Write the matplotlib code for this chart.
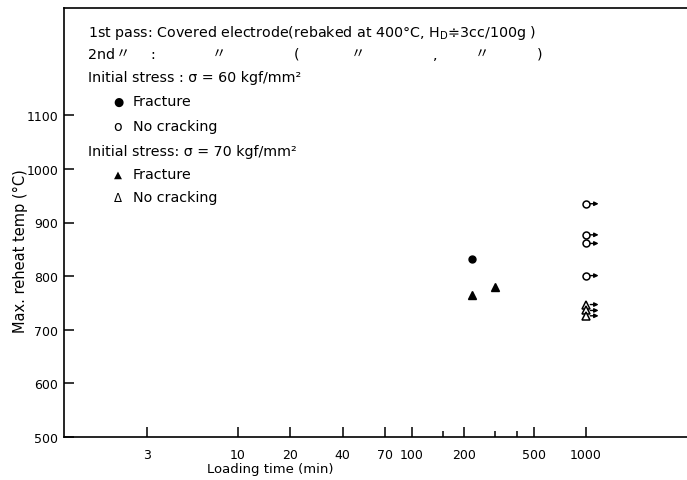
import matplotlib
matplotlib.use("Agg")
import matplotlib.pyplot as plt

plt.rcParams['font.family'] = ['DejaVu Sans', 'Noto Sans CJK JP']
plt.rcParams['mathtext.default'] = 'regular'

# ---- data ----
frac60_time = [220]
frac60_temp = [832]
frac70_time = [220, 300]
frac70_temp = [765, 780]
nocrack60_time = [1000, 1000, 1000, 1000]
nocrack60_temp = [935, 877, 861, 801]
nocrack70_time = [1000, 1000, 1000]
nocrack70_temp = [747, 736, 726]

xticks_major = [3, 10, 20, 40, 70, 100, 200, 500, 1000]
xticks_minor = [150, 300, 400]
yticks = [500, 600, 700, 800, 900, 1000, 1100]

W, H = 687, 481
fig = plt.figure(figsize=(W / 100, H / 100), dpi=100)
ax = fig.add_axes([64 / W, 1 - 438 / H, 1 - 64 / W, (438 - 9) / H])

ax.set_xscale('log')
ax.set_xlim(1, 3800)
ax.set_ylim(500, 1300)

ax.plot(frac60_time, frac60_temp, 'o', color='black', ms=5)
ax.plot(frac70_time, frac70_temp, '^', color='black', ms=6)
ax.plot(nocrack60_time, nocrack60_temp, 'o', mfc='white', mec='black', mew=1.1, ms=5, zorder=3)
ax.plot(nocrack70_time, nocrack70_temp, '^', mfc='white', mec='black', mew=1.1, ms=6, zorder=3)

for t, v in list(zip(nocrack60_time, nocrack60_temp)) + list(zip(nocrack70_time, nocrack70_temp)):
    ax.annotate('', xy=(t * 1.18, v), xytext=(t, v),
                arrowprops=dict(arrowstyle='-|>', color='black', lw=1.0,
                                shrinkA=3, shrinkB=0, mutation_scale=6))

ax.set_xticks(xticks_major)
ax.set_xticklabels([str(t) for t in xticks_major])
ax.set_xticks(xticks_minor, minor=True)
ax.set_xticklabels([], minor=True)
ax.set_yticks(yticks)

ax.tick_params(axis='x', which='major', direction='in', length=7, width=1.1, pad=8, labelsize=9)
ax.tick_params(axis='x', which='minor', direction='in', length=4, width=1.1)
ax.tick_params(axis='y', which='major', direction='in', length=7, width=1.1, pad=4, labelsize=9)
ax.tick_params(axis='y', which='minor', left=False)

for s in ['left', 'bottom', 'top']:
    ax.spines[s].set_linewidth(1.2)
ax.spines['right'].set_visible(False)

ax.set_xlabel('Loading time (min)', fontsize=9.5)
ax.xaxis.set_label_coords((270 - 64) / 623, (438 - 463) / 429)
ax.set_ylabel('Max. reheat temp (°C)', fontsize=10.5)
ax.yaxis.set_label_coords((28 - 64) / 623, (438 - 251) / 429)


def ftext(x, y, s, **kw):
    fig.text(x / W, 1 - y / H, s, va='center', ha=kw.pop('ha', 'left'),
             fontsize=kw.pop('fontsize', 10.3), **kw)


ftext(88, 33, '1st pass: Covered electrode(rebaked at 400°C, H$_D$≑3cc/100g )')
ftext(88, 55, '2nd')
for xp, s in [(123, '〃'), (153, ':'), (219, '〃'), (297, '('), (358, '〃'), (435, ','), (482, '〃'), (540, ')')]:
    ftext(xp, 55, s, ha='center')
ftext(88, 78, 'Initial stress : σ = 60 kgf/mm²')
ftext(118, 102, '●', ha='center', fontsize=8.5)
ftext(133, 102, 'Fracture')
ftext(118, 127, 'o', ha='center')
ftext(133, 127, 'No cracking')
ftext(88, 152, 'Initial stress: σ = 70 kgf/mm²')
ftext(118, 175, '▲', ha='center', fontsize=7.5)
ftext(133, 175, 'Fracture')
ftext(118, 198, 'Δ', ha='center', fontsize=8.5)
ftext(133, 198, 'No cracking')

fig.savefig('out.png', dpi=100)
